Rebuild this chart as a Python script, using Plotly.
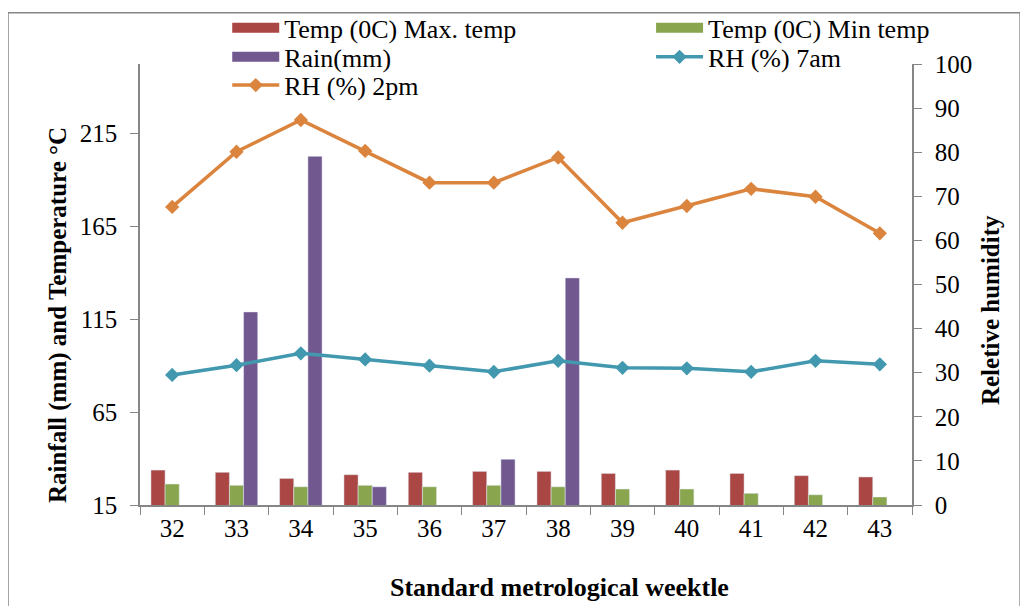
import plotly.graph_objects as go

weeks = ["32", "33", "34", "35", "36", "37", "38", "39", "40", "41", "42", "43"]
max_temp = [33.8, 32.6, 29.3, 31.3, 32.6, 33.1, 33.1, 32.0, 33.8, 32.0, 30.8, 30.1]
min_temp = [26.3, 25.6, 24.8, 25.6, 24.8, 25.6, 24.8, 23.6, 23.6, 21.3, 20.5, 19.3]
rain = [0, 118.9, 202.6, 24.8, 0, 39.6, 137.2, 0, 0, 0, 0, 0]
rh_7am = [29.5, 31.7, 34.4, 33.0, 31.6, 30.2, 32.7, 31.1, 31.0, 30.2, 32.7, 31.9]
rh_2pm = [67.6, 80.1, 87.3, 80.3, 73.1, 73.1, 78.8, 64.0, 67.8, 71.7, 69.9, 61.6]
left_ticks = [15, 65, 115, 165, 215]
right_ticks = [0, 10, 20, 30, 40, 50, 60, 70, 80, 90, 100]

FONT = "Liberation Serif"
AX = "#868686"
C_MAX, C_MIN, C_RAIN, C_7, C_2 = "#AA4643", "#89A54E", "#71588F", "#4198AF", "#DB843D"

fig = go.Figure()
# bars (legend shown via wide swatch entries below)
fig.add_trace(go.Bar(x=weeks, y=max_temp, name="Temp (0C) Max. temp",
                     marker=dict(color=C_MAX), showlegend=False))
fig.add_trace(go.Bar(x=weeks, y=min_temp, name="Temp (0C) Min temp",
                     marker=dict(color=C_MIN), showlegend=False))
fig.add_trace(go.Bar(x=weeks, y=rain, name="Rain(mm)",
                     marker=dict(color=C_RAIN), showlegend=False))
fig.add_trace(go.Scatter(x=weeks, y=rh_7am, name="RH (%) 7am", yaxis="y2",
                         mode="lines+markers", line=dict(color=C_7, width=3.5),
                         marker=dict(symbol="diamond", size=11, color=C_7),
                         legend="legend4"))
fig.add_trace(go.Scatter(x=weeks, y=rh_2pm, name="RH (%) 2pm", yaxis="y2",
                         mode="lines+markers", line=dict(color=C_2, width=3.5),
                         marker=dict(symbol="diamond", size=11, color=C_2),
                         legend="legend5"))
# legend swatches for the bar series (no data drawn)
for nm, col, lg in [("Temp (0C) Max. temp", C_MAX, "legend"),
                    ("Temp (0C) Min temp", C_MIN, "legend2"),
                    ("Rain(mm)", C_RAIN, "legend3")]:
    fig.add_trace(go.Scatter(x=[None], y=[None], name=nm, mode="lines",
                             line=dict(color=col, width=12), legend=lg,
                             hoverinfo="skip"))

def leg(x, y):
    return dict(x=x, y=y, xanchor="left", yanchor="middle", bgcolor="rgba(0,0,0,0)",
                font=dict(family=FONT, size=26, color="#000"), borderwidth=0,
                visible=True, itemwidth=47)

c1, c2 = 0.113, 0.662
r1, r2, r3 = 1.082, 1.016, 0.952

fig.update_layout(
    width=1020, height=598,
    margin=dict(l=132, r=116, t=56, b=101, autoexpand=False),
    paper_bgcolor="white", plot_bgcolor="white",
    showlegend=True,
    barmode="group", bargap=0.34, bargroupgap=0,
    font=dict(family=FONT, size=25, color="#000"),
    legend=leg(c1, r1), legend2=leg(c2, r1), legend3=leg(c1, r2),
    legend4=leg(c2, r2), legend5=leg(c1, r3),
    xaxis=dict(type="category", range=[-0.5, 11.5], showline=True, linecolor=AX,
               linewidth=1.5, ticks="outside", tickson="boundaries", ticklen=8,
               tickcolor=AX, tickfont=dict(family=FONT, size=25), showgrid=False,
               zeroline=False),
    yaxis=dict(range=[15, 252.3], tickvals=left_ticks, showline=True, linecolor=AX,
               linewidth=1.5, ticks="outside", ticklen=8, tickcolor=AX,
               tickfont=dict(family=FONT, size=25), showgrid=False, zeroline=False,
               ticklabelstandoff=8),
    yaxis2=dict(range=[0, 100], tickvals=right_ticks, overlaying="y", side="right",
                showline=True, linecolor=AX, linewidth=1.5, ticks="outside", ticklen=8,
                tickcolor=AX, tickfont=dict(family=FONT, size=25), showgrid=False,
                zeroline=False, ticklabelstandoff=8),
    annotations=[
        dict(text="<b>Rainfall (mm) and Temperature °C</b>", x=-0.106, y=0.431,
             xref="paper", yref="paper", textangle=-90, showarrow=False,
             xanchor="center", yanchor="middle", font=dict(family=FONT, size=25)),
        dict(text="<b>Reletive humidity</b>", x=1.101, y=0.442,
             xref="paper", yref="paper", textangle=-90, showarrow=False,
             xanchor="center", yanchor="middle", font=dict(family=FONT, size=25)),
        dict(text="<b>Standard metrological weektle</b>", x=0.544, y=-0.188,
             xref="paper", yref="paper", showarrow=False,
             xanchor="center", yanchor="middle", font=dict(family=FONT, size=26)),
    ],
    shapes=[dict(type="rect", xref="paper", yref="paper", x0=-0.171, x1=1.140,
                 y0=-0.306, y1=1.116, line=dict(color=AX, width=1.5), layer="below")],
)

fig.write_html("out.html")
